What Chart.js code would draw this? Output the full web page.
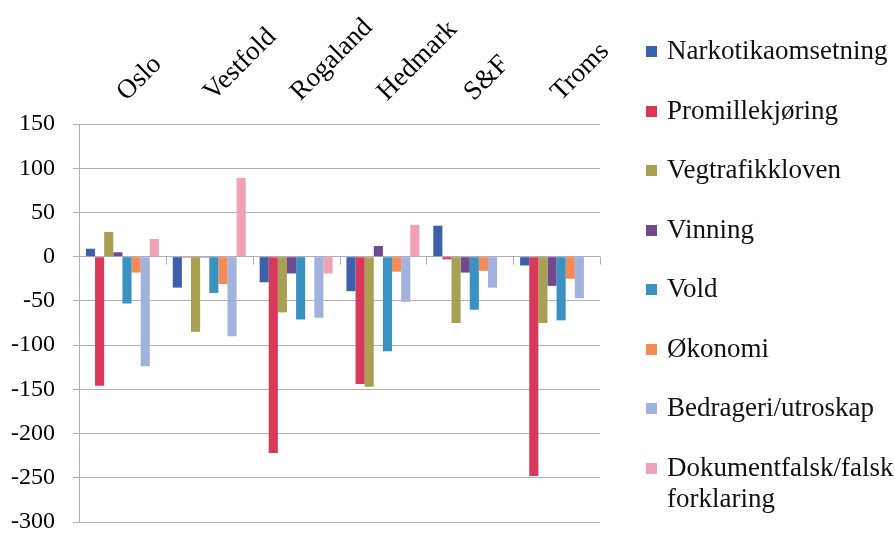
<!DOCTYPE html>
<html>
<head>
<meta charset="utf-8">
<script src="https://cdn.jsdelivr.net/npm/chart.js@4/dist/chart.umd.min.js"></script>
<style>
  html, body { margin: 0; padding: 0; background: #fff; }
  #wrap { position: relative; width: 895px; height: 534px; }
  #legend {
    position: absolute; left: 646px; top: 35px;
    font-family: "Liberation Serif", "Times New Roman", serif;
    font-size: 27px; color: #111; line-height: 31px;
  }
  .item { position: relative; padding-left: 21px; height: 59.5px; white-space: nowrap; }
  .box { position: absolute; left: 0; top: 11px; width: 11px; height: 11px; }
</style>
</head>
<body>
<div id="wrap">
  <canvas id="chart"></canvas>
  <div id="legend"></div>
</div>
<script>
const categories = ['Oslo', 'Vestfold', 'Rogaland', 'Hedmark', 'S&F', 'Troms'];

const seriesNames = [
  'Narkotikaomsetning', 'Promillekjøring', 'Vegtrafikkloven', 'Vinning',
  'Vold', 'Økonomi', 'Bedrageri/utroskap', ['Dokumentfalsk/falsk', 'forklaring']
];
const seriesColors = [
  '#3c60aa', '#d8385a', '#a9a152', '#71498f',
  '#3a92c3', '#f48a56', '#a2b2df', '#f1a1b4'
];

const narkotika  = [9, -35, -29, -39, 35, -10];
const promille   = [-146, -1, -222, -144, -3, -248];
const vegtrafikk = [28, -85, -63, -147, -75, -75];
const vinning    = [5, -1, -19, 12, -18, -33];
const vold       = [-53, -41, -71, -107, -60, -72];
const okonomi    = [-18, -31, 0, -17, -16, -25];
const bedrageri  = [-124, -90, -69, -51, -35, -47];
const dokument   = [20, 89, -19, 36, 0, 0];

const seriesValues = [narkotika, promille, vegtrafikk, vinning, vold, okonomi, bedrageri, dokument];

const yMin = -300, yMax = 150, yStep = 50;

const gridColor = '#b2acb6';
const serif = '"Liberation Serif", "Times New Roman", serif';

// small tick marks on the zero line between categories
const zeroTicks = {
  id: 'zeroTicks',
  afterDatasetsDraw(chart) {
    const { ctx, scales: { x, y } } = chart;
    const y0 = y.getPixelForValue(0);
    const step = (x.right - x.left) / categories.length;
    ctx.save();
    ctx.strokeStyle = gridColor;
    ctx.lineWidth = 1;
    ctx.beginPath();
    for (let i = 1; i <= categories.length; i++) {
      const px = Math.round(x.left + step * i) + 0.5;
      ctx.moveTo(px, y0);
      ctx.lineTo(px, y0 + 8);
    }
    ctx.stroke();
    ctx.restore();
  }
};

const chart = new Chart(document.getElementById('chart'), {
  type: 'bar',
  data: {
    labels: categories,
    datasets: seriesNames.map((name, i) => ({
      label: Array.isArray(name) ? name.join(' ') : name,
      data: seriesValues[i],
      backgroundColor: seriesColors[i],
      borderWidth: 0,
      categoryPercentage: 0.84,
      barPercentage: 1.0
    }))
  },
  options: {
    responsive: true,
    maintainAspectRatio: false,
    animation: false,
    layout: { padding: { top: 0, left: 0, right: 295, bottom: 12 } },
    plugins: {
      legend: { display: false },
      tooltip: { enabled: false }
    },
    scales: {
      x: {
        position: 'top',
        grid: { display: false, drawTicks: false },
        border: { display: false },
        ticks: {
          autoSkip: false,
          minRotation: 45,
          maxRotation: 45,
          padding: 16,
          labelOffset: 22,
          color: '#000',
          font: { family: serif, size: 27 }
        },
        afterFit(scale) {
          scale.height = 124;
          scale.paddingLeft = 0;
          scale.paddingRight = 0;
        }
      },
      y: {
        min: yMin,
        max: yMax,
        grid: { color: gridColor, tickLength: 6 },
        border: { color: gridColor },
        ticks: {
          stepSize: yStep,
          padding: 18,
          color: '#000',
          font: { family: serif, size: 24 }
        },
        afterFit(scale) {
          scale.width = 79;
          scale.paddingTop = 0;
          scale.paddingBottom = 0;
        }
      }
    }
  },
  plugins: [zeroTicks]
});

// legend built from the chart's datasets (last entry wraps over two lines)
const legendEl = document.getElementById('legend');
legendEl.innerHTML = seriesNames.map((name, i) => `
  <div class="item">
    <span class="box" style="background:${chart.data.datasets[i].backgroundColor}"></span>
    ${Array.isArray(name) ? name.join('<br>') : name}
  </div>
`).join('');
</script>
</body>
</html>
